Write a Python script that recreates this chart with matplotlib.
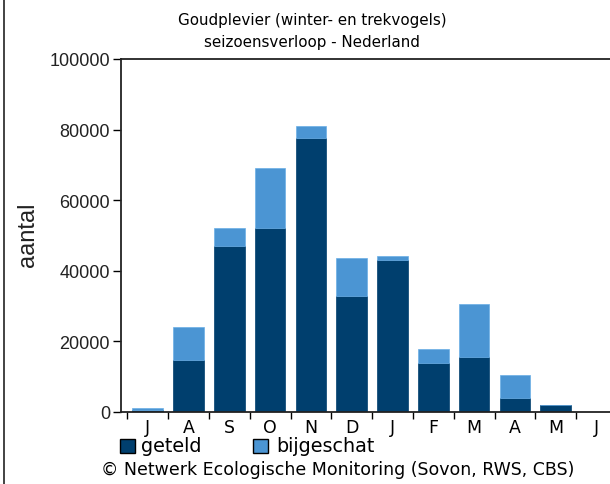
import matplotlib
matplotlib.use("Agg")
import matplotlib.pyplot as plt
from matplotlib.lines import Line2D
from matplotlib.patches import Rectangle

# seizoensverloop, juli t/m juni
maanden = ['J', 'A', 'S', 'O', 'N', 'D', 'J', 'F', 'M', 'A', 'M', 'J']
geteld = [700, 14600, 47100, 52100, 77600, 33000, 43100, 14000, 15500, 4000, 1900, 0]
totaal = [1100, 24000, 52100, 69200, 81100, 43500, 44100, 17900, 30500, 10500, 2000, 0]
bijgeschat = [t - g for t, g in zip(totaal, geteld)]

donker = '#003f6e'
licht = '#4b95d3'

W, H = 610, 485
fig = plt.figure(figsize=(W / 100, H / 100), dpi=100)
ax = fig.add_axes([121 / W, (H - 413) / H, 1 - 121 / W, (413 - 60) / H])

x = list(range(len(maanden)))
ax.bar(x, geteld, width=0.75, color=donker, edgecolor=donker, linewidth=0.5)
ax.bar(x, bijgeschat, width=0.75, bottom=geteld, color=licht,
       edgecolor='#6aaee6', linewidth=0.5)

ax.set_xlim(-0.655, 11.33)
ax.set_ylim(0, 100000)

ax.spines['right'].set_visible(False)
for s in ['left', 'top', 'bottom']:
    ax.spines[s].set_linewidth(1.3)
    ax.spines[s].set_color('#222222')

# ticks op de grenzen tussen maanden, labels in het midden
ax.set_xticks([i - 0.5 for i in x])
ax.set_xticklabels([])
ax.set_xticks(x, minor=True)
ax.set_xticklabels(maanden, minor=True, fontsize=12.5, family='DejaVu Sans')
ax.tick_params(axis='x', which='major', length=5, width=1, direction='out')
ax.tick_params(axis='x', which='minor', length=0, pad=4)

ax.set_yticks([0, 20000, 40000, 60000, 80000, 100000])
ax.set_yticklabels(['0', '20000', '40000', '60000', '80000', '100000'],
                   fontsize=13, family='Liberation Sans', color='#222222')
ax.tick_params(axis='y', length=6, width=1, direction='out', pad=2)

fig.text(17 / W, 1 - 235 / H, 'aantal', rotation=90, ha='left', va='center',
         fontsize=17, family='Liberation Sans', color='#222222')

fig.text(312 / W, 1 - 21 / H, 'Goudplevier (winter- en trekvogels)',
         ha='center', va='center', fontsize=10.9, family='DejaVu Sans')
fig.text(312 / W, 1 - 43 / H, 'seizoensverloop - Nederland',
         ha='center', va='center', fontsize=10.9, family='DejaVu Sans')

# legenda
fig.patches.append(Rectangle((120 / W, 1 - 454 / H), 15 / W, 14 / H,
                             transform=fig.transFigure, facecolor=donker,
                             edgecolor='black', linewidth=1))
fig.text(141 / W, 1 - 447 / H, 'geteld', ha='left', va='center',
         fontsize=13.8, family='DejaVu Sans')
fig.patches.append(Rectangle((253 / W, 1 - 454 / H), 15 / W, 14 / H,
                             transform=fig.transFigure, facecolor=licht,
                             edgecolor='black', linewidth=1))
fig.text(276 / W, 1 - 447 / H, 'bijgeschat', ha='left', va='center',
         fontsize=13.8, family='DejaVu Sans')

fig.text(101 / W, 1 - 470 / H,
         '\u00a9 Netwerk Ecologische Monitoring (Sovon, RWS, CBS)',
         ha='left', va='center', fontsize=12.5, family='DejaVu Sans')

# lijn links aan de rand
fig.lines.append(Line2D([3.5 / W, 3.5 / W], [0, 1], transform=fig.transFigure,
                        color='#222222', linewidth=1.2))

fig.savefig('out.png', dpi=100)
